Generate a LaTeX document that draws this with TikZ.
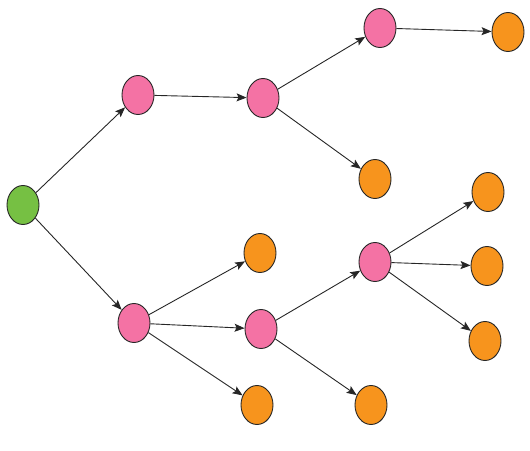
\documentclass[tikz,border=0pt]{standalone}
\usepackage{tikz}
\usepackage{xcolor}
\usetikzlibrary{arrows.meta}
\usetikzlibrary{shapes.geometric}

\definecolor{leafgreen}{HTML}{76C043}
\definecolor{nodepink}{HTML}{F472A4}
\definecolor{nodeorange}{HTML}{F7941D}

\tikzset{
    dot/.style={ellipse,draw=black!85,line width=0.9pt,minimum width=32pt,minimum height=39pt,inner sep=0pt},
    edge/.style={-{Stealth[length=10pt,width=8pt,inset=2pt]},black!85,line width=0.9pt}
}

\begin{document}
\begin{tikzpicture}[x=1pt,y=-1pt]
        \useasboundingbox (0,0) rectangle (530,450);
        % root
        \node[dot,fill=leafgreen] (r) at (23,205) {};
        % upper branch
        \node[dot,fill=nodepink] (a) at (138,95) {};
        \node[dot,fill=nodepink] (b) at (263,98) {};
        \node[dot,fill=nodepink] (c) at (380,28) {};
        \node[dot,fill=nodeorange] (c1) at (508,32) {};
        \node[dot,fill=nodeorange] (b2) at (375,179) {};
        % lower branch
        \node[dot,fill=nodepink] (d) at (134,323) {};
        \node[dot,fill=nodeorange] (d1) at (260,253) {};
        \node[dot,fill=nodepink] (e) at (261,329) {};
        \node[dot,fill=nodeorange] (d3) at (257,405) {};
        \node[dot,fill=nodepink] (f) at (375,262) {};
        \node[dot,fill=nodeorange] (e2) at (371,405) {};
        \node[dot,fill=nodeorange] (f1) at (488,192) {};
        \node[dot,fill=nodeorange] (f2) at (487,266) {};
        \node[dot,fill=nodeorange] (f3) at (485,341) {};
        % arrows
        \foreach \s/\t in {r/a,a/b,b/c,c/c1,b/b2,r/d,d/d1,d/e,d/d3,e/f,e/e2,f/f1,f/f2,f/f3}{
            \draw[edge] (\s) -- (\t);
        }
    \end{tikzpicture}
\end{document}
